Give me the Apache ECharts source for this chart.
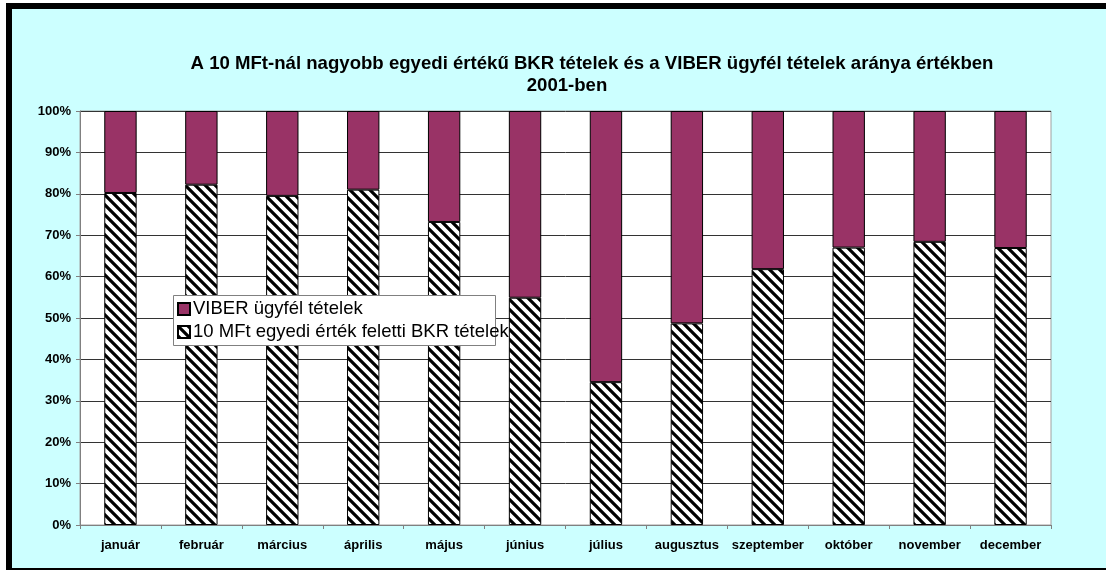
<!DOCTYPE html>
<html>
<head>
<meta charset="utf-8">
<title>BKR / VIBER 2001</title>
<script src="https://cdn.jsdelivr.net/npm/echarts@6/dist/echarts.min.js"></script>
<style>
	html, body { margin: 0; padding: 0; background: #fff; overflow: hidden; }
	/* fekete keret, mint az eredeti kivágáson */
	.frame {
		position: absolute; left: 6px; top: 3px;
		width: 1200px; height: 559px;
		border: 6px solid #000;
		background: #ccffff;
	}
	#chart { position: absolute; left: 0; top: 0; width: 1106px; height: 570px; }
</style>
</head>
<body>
<div class="frame"></div>
<div id="chart"></div>
<script>
	'use strict';
	// hónapok
	const months = ['január', 'február', 'március', 'április', 'május', 'június',
		'július', 'augusztus', 'szeptember', 'október', 'november', 'december'];
	// 10 MFt feletti BKR tételek aránya (%)
	const bkrShare = [80.2, 82.2, 79.5, 81.0, 73.2, 54.9, 34.5, 48.7, 61.8, 67.0, 68.4, 66.9];
	// VIBER ügyfél tételek aránya (%)
	const viberShare = [19.8, 17.8, 20.5, 19.0, 26.8, 45.1, 65.5, 51.3, 38.2, 33.0, 31.6, 33.1];

	const font = '"Liberation Sans", Arial, sans-serif';

	// ferde csíkos minta a BKR oszlopokhoz
	function stripes() {
		const size = 10;
		const c = document.createElement('canvas');
		c.width = size;
		c.height = size;
		const ctx = c.getContext('2d');
		ctx.fillStyle = '#fff';
		ctx.fillRect(0, 0, size, size);
		ctx.strokeStyle = '#000';
		ctx.lineWidth = 3.2;
		ctx.beginPath();
		for (let k = -1; k <= 1; k++) {
			ctx.moveTo(k * size - 2, -2);
			ctx.lineTo(k * size + size + 2, size + 2);
		}
		ctx.stroke();
		return c;
	}

	const titleStyle = { fontFamily: font, fontSize: 18.6, fontWeight: 'bold', color: '#000', lineHeight: 19 };

	const chart = echarts.init(document.getElementById('chart'));
	chart.setOption({
		backgroundColor: 'transparent',
		animation: false,
		title: [{
			text: 'A 10 MFt-nál nagyobb egyedi értékű BKR tételek és a VIBER ügyfél tételek aránya értékben',
			left: 587,
			top: 49,
			textAlign: 'center',
			textStyle: titleStyle
		}, {
			text: '2001-ben',
			left: 562,
			top: 71,
			textAlign: 'center',
			textStyle: titleStyle
		}],
		// a jelmagyarázat doboza keskenyebb a szövegnél, mint az eredetin
		graphic: [{
			type: 'rect',
			z: 3,
			shape: { x: 173.5, y: 295.5, width: 322, height: 50 },
			style: { fill: '#fff', stroke: '#808080', lineWidth: 1 }
		}],
		legend: {
			orient: 'vertical',
			left: 173,
			top: 295,
			z: 4,
			padding: [4, 4, 4, 4],
			itemGap: 3,
			itemWidth: 12,
			itemHeight: 12,
			data: [
				{ name: 'VIBER ügyfél tételek', icon: 'rect' },
				{ name: '10 MFt egyedi érték feletti BKR tételek', icon: 'rect' }
			],
			textStyle: {
				fontFamily: font, fontSize: 18.5, lineHeight: 20, color: '#000',
				padding: [0, 0, 0, -2]
			}
		},
		grid: {
			left: 80,
			right: 55,
			top: 111,
			bottom: 45,
			show: true,
			backgroundColor: '#fff',
			borderColor: '#a0a0a0',
			borderWidth: 1
		},
		xAxis: {
			type: 'category',
			data: months,
			axisLine: { lineStyle: { color: '#808080', width: 1 } },
			axisTick: { show: true, length: 4, lineStyle: { color: '#808080' } },
			axisLabel: { fontFamily: font, fontSize: 13, fontWeight: 'bold', color: '#000', margin: 14, interval: 0 }
		},
		yAxis: {
			type: 'value',
			min: 0,
			max: 100,
			interval: 10,
			axisLine: { show: true, lineStyle: { color: '#808080', width: 1 } },
			axisTick: { show: true, length: 4, lineStyle: { color: '#808080' } },
			axisLabel: { fontFamily: font, fontSize: 13, fontWeight: 'bold', color: '#000', margin: 9, formatter: '{value}%' },
			splitLine: { lineStyle: { color: '#333', width: 1 } }
		},
		series: [{
			name: '10 MFt egyedi érték feletti BKR tételek',
			type: 'bar',
			stack: 'ossz',
			barWidth: '40%',
			data: bkrShare,
			itemStyle: {
				color: { image: stripes(), repeat: 'repeat' },
				borderColor: '#000',
				borderWidth: 1
			}
		}, {
			name: 'VIBER ügyfél tételek',
			type: 'bar',
			stack: 'ossz',
			barWidth: '40%',
			data: viberShare,
			itemStyle: {
				color: '#993366',
				borderColor: '#000',
				borderWidth: 1
			}
		}]
	});
</script>
</body>
</html>
